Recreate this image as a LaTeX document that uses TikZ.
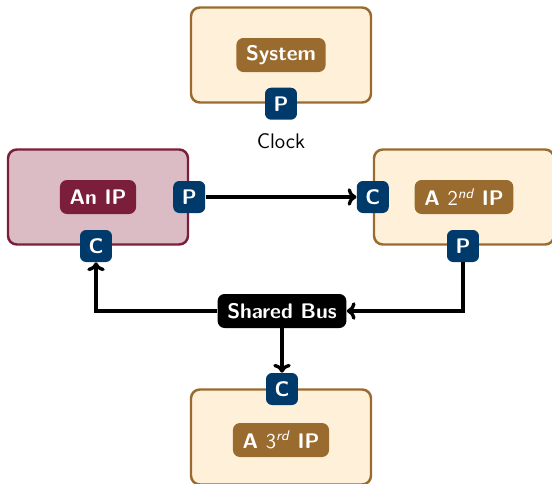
\documentclass[tikz,border=0pt]{standalone}
\usepackage{tikz}
\usepackage{xcolor}
\usetikzlibrary{arrows.meta, positioning, calc}

\definecolor{ipbrown}{HTML}{9A6B2E}
\definecolor{ipcream}{HTML}{FFF0DA}
\definecolor{ipmaroon}{HTML}{7B1E3A}
\definecolor{ippink}{HTML}{DBBCC5}
\definecolor{portblue}{HTML}{003A6B}

\begin{document}
\begin{tikzpicture}[
    x=0.02cm, y=-0.02cm,
    font=\sffamily\large,
    block/.style     ={draw=ipbrown, line width=1.4pt, rounded corners=5pt, fill=ipcream,
                       minimum width=3.6cm, minimum height=1.9cm},
    hotblock/.style  ={block, draw=ipmaroon, fill=ippink},
    tag/.style       ={rounded corners=4pt, fill=ipbrown, text=white, font=\sffamily\large\bfseries,
                       minimum height=0.68cm, inner xsep=5.5pt},
    hottag/.style    ={tag, fill=ipmaroon},
    bustag/.style    ={tag, fill=black},
    port/.style      ={rounded corners=3.5pt, fill=portblue, text=white, font=\sffamily\large\bfseries,
                       minimum size=0.64cm, inner sep=0pt},
    link/.style      ={-{To[length=5pt,width=10pt]}, line width=1.9pt}
]
\useasboundingbox (0,0) rectangle (552,484);

% Top: the system with its clock port
\node[block] (sys) at (281,55) {};
\node[tag]   (systag) at (281,55) {System};
\node[port]  (sysP) at (sys.south) {P};
\node[below=1.5mm of sysP] (clk) {Clock};

% Left: first IP
\node[hotblock] (ipa) at (98,197) {};
\node[hottag]   (ipatag) at (98,197) {An IP};
\node[port]     (ipaP) at (ipa.east) {P};
\node[port]     (ipaC) at (96,246) {C};

% Right: second IP
\node[block] (ipb) at (464,197) {};
\node[tag]   (ipbtag) at (464,197) {A {\mdseries 2\textsuperscript{\itshape nd}} IP};
\node[port]  (ipbC) at (ipb.west) {C};
\node[port]  (ipbP) at (463,246) {P};

% Bottom: bus and third IP
\node[bustag] (bus) at (282,311) {Shared Bus};
\node[block] (ipc) at (281,437) {};
\node[tag]   (ipctag) at (281,440) {A {\mdseries 3\textsuperscript{\itshape rd}} IP};
\node[port]  (ipcC) at (282,389) {C};

% --- Arrows ---
\draw[link] (ipaP.east) -- (ipbC.west);
\draw[link] (ipbP.south) |- (bus.east);
\draw[link] (bus.west) -| (ipaC.south);
\draw[link] (bus.south) -- (ipcC.north);

\end{tikzpicture}
\end{document}
